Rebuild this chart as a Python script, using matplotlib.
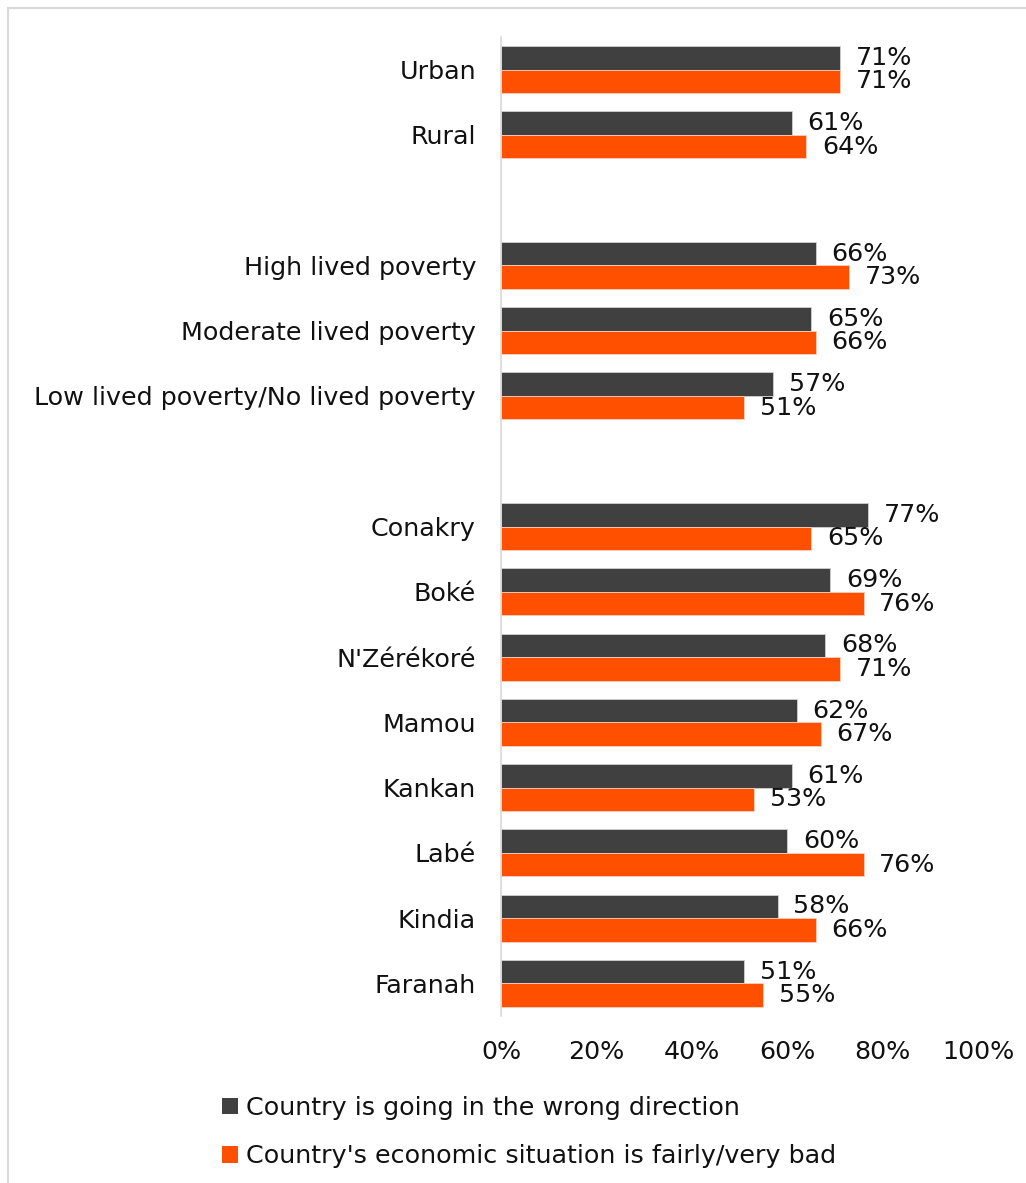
import numpy as np
from matplotlib import pyplot
from matplotlib.patches import Rectangle, Patch

categories = ['Urban', 'Rural', '', 'High lived poverty', 'Moderate lived poverty',
              'Low lived poverty/No lived poverty', '', 'Conakry', 'Boké', "N'Zérékoré",
              'Mamou', 'Kankan', 'Labé', 'Kindia', 'Faranah']
wrongDirection = [71, 61, None, 66, 65, 57, None, 77, 69, 68, 62, 61, 60, 58, 51]
economyBad = [71, 64, None, 73, 66, 51, None, 65, 76, 71, 67, 53, 76, 66, 55]
xTicks = [0, 20, 40, 60, 80, 100]
seriesNames = ['Country is going in the wrong direction',
               "Country's economic situation is fairly/very bad"]
colors = ['#404040', '#FF5000']

pyplot.rcParams['font.family'] = 'DejaVu Sans'
fontSize = 18.3

figure = pyplot.figure(figsize=(10.26, 11.83), dpi=100)
axis = figure.add_axes([501/1026, 1-1016/1183, (978-501)/1026, (1016-37)/1183])

barH = 0.36
for i, (a, b) in enumerate(zip(wrongDirection, economyBad)):
	if a is None:
		continue
	axis.barh(i - barH/2, a, height=barH, color=colors[0], edgecolor='#D0D0D0', linewidth=0.6)
	axis.barh(i + barH/2, b, height=barH, color=colors[1], edgecolor='#F8D0C0', linewidth=0.6)
	axis.text(a + 3.3, i - barH/2, '%d%%' % a, va='center', ha='left', fontsize=fontSize, color='#111111')
	axis.text(b + 3.3, i + barH/2, '%d%%' % b, va='center', ha='left', fontsize=fontSize, color='#111111')

axis.set_ylim(14.5, -0.5)
axis.set_xlim(0, 100)
axis.set_yticks(range(len(categories)))
axis.set_yticklabels(categories, fontsize=fontSize, color='#111111')
axis.set_xticks(xTicks)
axis.set_xticklabels(['%d%%' % t for t in xTicks], fontsize=fontSize, color='#111111')
axis.tick_params(axis='both', length=0)
axis.tick_params(axis='y', pad=18)
axis.tick_params(axis='x', pad=17)
for side in ['top', 'right', 'bottom']:
	axis.spines[side].set_visible(False)
axis.spines['left'].set_color('#D9D9D9')
axis.spines['left'].set_linewidth(1.2)

handles = [Patch(facecolor=c, edgecolor='none') for c in colors]
figure.legend(handles, seriesNames, loc='upper left', bbox_to_anchor=(212/1026, 1-1086/1183),
	frameon=False, fontsize=fontSize, handlelength=0.62, handleheight=0.62,
	handletextpad=0.3, labelspacing=0.95, borderaxespad=0, labelcolor='#111111')

figure.patches.append(Rectangle((8/1026, -0.1), 1.5, 1 - 8/1183 + 0.1, transform=figure.transFigure,
	fill=False, edgecolor='#D9D9D9', linewidth=1.5))

pyplot.savefig('out.png', dpi=100)
